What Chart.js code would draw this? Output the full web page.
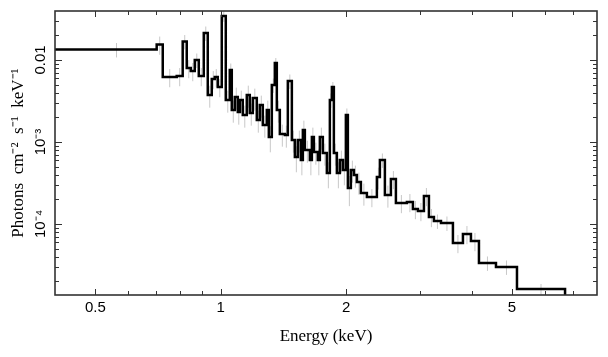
<!DOCTYPE html>
<html><head><meta charset="utf-8">
<script src="https://cdn.jsdelivr.net/npm/chart.js@4.4.1/dist/chart.umd.min.js"></script>
<style>html,body{margin:0;padding:0;background:#fff}#wrap{width:608px;height:357px}</style>
</head><body><div id="wrap"><canvas id="c" width="608" height="357"></canvas></div>
<script>
// Energy bin edges (keV)
const binEdges = [0.45, 0.7017, 0.7256, 0.7838, 0.8102, 0.8285, 0.8471, 0.8661, 0.8855, 0.9103,
  0.9306, 0.9514, 0.9674, 0.9835, 1.0055, 1.0280, 1.0510, 1.0627, 1.0805, 1.0986,
  1.1108, 1.1293, 1.1546, 1.1739, 1.1936, 1.2203, 1.2407, 1.2615, 1.2897, 1.3041,
  1.3259, 1.3481, 1.3631, 1.3860, 1.4248, 1.4486, 1.4812, 1.5060, 1.5311, 1.5568,
  1.5741, 1.5916, 1.6363, 1.6545, 1.6729, 1.7100, 1.7290, 1.7580, 1.7973, 1.8274,
  1.8478, 1.8683, 1.8996, 1.9314, 1.9637, 1.9965, 2.0187, 2.0525, 2.0868, 2.1217,
  2.1692, 2.2424, 2.3698, 2.4095, 2.4770, 2.5607, 2.6325, 2.7975, 2.8918, 2.9730,
  3.0734, 3.1596, 3.2481, 3.3774, 3.6078, 3.8131, 3.9856, 4.1660, 4.5770, 5.1405, 6.7050];
// Flux per bin (photons cm^-2 s^-1 keV^-1)
const flux = [0.01343, 0.01545, 0.006204, 0.006381, 0.01681, 0.007990, 0.007341, 0.01000, 0.006381, 0.02135,
  0.003743, 0.005866, 0.006204, 0.004685, 0.03440, 0.003253, 0.007551, 0.002456, 0.003538, 0.002322,
  0.003253, 0.002135, 0.003743, 0.002258, 0.003440, 0.001855, 0.002826, 0.001612, 0.002456, 0.001151,
  0.004955, 0.009192, 0.002456, 0.001252, 0.001218, 0.005546, 0.001058, 0.0006567, 0.001058, 0.0006034,
  0.001401, 0.0007986, 0.0006034, 0.001151, 0.0007551, 0.0006034, 0.001151, 0.0007341, 0.0004188, 0.003253,
  0.004685, 0.0007341, 0.0004188, 0.0006034, 0.0004555, 0.002135, 0.0002748, 0.0004555, 0.0003960, 0.0003253,
  0.0002388, 0.0002135, 0.0003743, 0.0006034, 0.0002258, 0.0003538, 0.0001804, 0.0001855, 0.0001524, 0.0001441,
  0.0002196, 0.0001218, 0.0001088, 0.0001028, 0.00005866, 0.00007551, 0.00006204, 0.00003344, 0.00002989, 0.00001612];
// Relative 1-sigma error per bin
const relErr = [0.2, 0.25, 0.25, 0.25, 0.2, 0.25, 0.25, 0.2, 0.25, 0.2,
  0.3, 0.25, 0.25, 0.25, 0.15, 0.3, 0.2, 0.3, 0.3, 0.3,
  0.3, 0.3, 0.3, 0.3, 0.3, 0.3, 0.3, 0.3, 0.3, 0.35,
  0.2, 0.15, 0.3, 0.3, 0.3, 0.2, 0.3, 0.35, 0.3, 0.35,
  0.3, 0.3, 0.35, 0.3, 0.3, 0.35, 0.3, 0.3, 0.35, 0.2,
  0.15, 0.3, 0.35, 0.3, 0.35, 0.2, 0.4, 0.3, 0.3, 0.3,
  0.3, 0.25, 0.3, 0.2, 0.3, 0.25, 0.25, 0.25, 0.25, 0.25,
  0.25, 0.25, 0.2, 0.2, 0.25, 0.25, 0.25, 0.2, 0.2, 0.15];

const xTickValues = [0.5, 0.6, 0.7, 0.8, 0.9, 1, 2, 3, 4, 5, 6, 7];
const xTickLabels = ['0.5', '', '', '', '', '1', '2', '', '', '5', '', ''];
const yTickValues = [2e-5, 3e-5, 4e-5, 5e-5, 6e-5, 7e-5, 8e-5, 9e-5,
  1e-4, 2e-4, 3e-4, 4e-4, 5e-4, 6e-4, 7e-4, 8e-4, 9e-4,
  1e-3, 2e-3, 3e-3, 4e-3, 5e-3, 6e-3, 7e-3, 8e-3, 9e-3,
  1e-2, 2e-2, 3e-2];
const yTickLabels = ['', '', '', '', '', '', '', '',
  '10\u207B\u2074', '', '', '', '', '', '', '', '',
  '10\u207B\u00B3', '', '', '', '', '', '', '', '',
  '0.01', '', ''];

const X_MIN = 0.4, X_MAX = 8, Y_MIN = 1.36e-5, Y_MAX = 0.0396;

// step line points
const stepPts = [{x: X_MIN * 0.9, y: flux[0]}];
for (let i = 1; i < flux.length; i++) stepPts.push({x: binEdges[i], y: flux[i]});
stepPts.push({x: binEdges[binEdges.length - 1], y: flux[flux.length - 1]});
stepPts.push({x: binEdges[binEdges.length - 1], y: Y_MIN * 0.5});

// error bar segments at bin centres
const errPts = [];
for (let i = 0; i < flux.length; i++) {
  const c = Math.sqrt(binEdges[i] * binEdges[i + 1]);
  errPts.push({x: c, y: flux[i] * (1 - relErr[i])});
  errPts.push({x: c, y: flux[i] * (1 + relErr[i])});
  errPts.push({x: c, y: null});
}

const frameTicks = {
  id: 'frameTicks',
  afterDraw(chart) {
    const {ctx, chartArea: a, scales: {x, y}} = chart;
    ctx.save();
    ctx.strokeStyle = '#333';
    ctx.lineWidth = 1;
    ctx.beginPath();
    x.ticks.forEach((t, i) => {
      const px = Math.round(x.getPixelForValue(t.value)) + 0.5;
      const len = xTickLabels[i] ? 6 : 4;
      ctx.moveTo(px, a.bottom); ctx.lineTo(px, a.bottom - len);
      ctx.moveTo(px, a.top); ctx.lineTo(px, a.top + len);
    });
    y.ticks.forEach((t, i) => {
      const py = Math.round(y.getPixelForValue(t.value)) + 0.5;
      const len = yTickLabels[i] ? 7 : 4;
      ctx.moveTo(a.left, py); ctx.lineTo(a.left + len, py);
      ctx.moveTo(a.right, py); ctx.lineTo(a.right - len, py);
    });
    ctx.stroke();
    ctx.lineWidth = 1.6;
    ctx.strokeRect(a.left, a.top, a.right - a.left, a.bottom - a.top);
    ctx.restore();
  }
};

new Chart(document.getElementById('c'), {
  type: 'line',
  data: {
    datasets: [
      {data: stepPts, stepped: true, borderColor: '#000', borderWidth: 2.5, pointRadius: 0, fill: false, order: 0},
      {data: errPts, borderColor: '#c8c8c8', borderWidth: 1, pointRadius: 0, fill: false, spanGaps: false, order: 1}
    ]
  },
  options: {
    responsive: false,
    animation: false,
    devicePixelRatio: 1,
    layout: {padding: {top: 11, right: 11, left: 0, bottom: 0}},
    plugins: {legend: {display: false}, tooltip: {enabled: false}},
    scales: {
      x: {
        type: 'logarithmic', min: X_MIN, max: X_MAX, position: 'bottom',
        grid: {display: false, drawTicks: false}, border: {display: false},
        afterBuildTicks: s => { s.ticks = xTickValues.map(v => ({value: v})); },
        afterFit: s => { s.height = 62; },
        ticks: {autoSkip: false, minRotation: 0, maxRotation: 0, padding: 4, color: '#000',
          font: {family: 'Liberation Sans', size: 15},
          callback: (v, i) => xTickLabels[i]},
        title: {display: true, text: 'Energy (keV)', color: '#000',
          font: {family: 'Liberation Serif', size: 17}, padding: {top: 0, bottom: 10}}
      },
      y: {
        type: 'logarithmic', min: Y_MIN, max: Y_MAX, position: 'left',
        grid: {display: false, drawTicks: false}, border: {display: false},
        afterBuildTicks: s => { s.ticks = yTickValues.map(v => ({value: v})); },
        afterFit: s => { s.width = 55; },
        ticks: {autoSkip: false, minRotation: 90, maxRotation: 90, crossAlign: 'center', padding: 0, color: '#000',
          font: {family: 'Liberation Sans', size: 15},
          callback: (v, i) => yTickLabels[i]},
        title: {display: true, text: 'Photons\u2002cm\u207B\u00B2\u2002s\u207B\u00B9\u2002keV\u207B\u00B9', color: '#000',
          font: {family: 'Liberation Serif', size: 17}, padding: {top: 8, bottom: 0}}
      }
    }
  },
  plugins: [frameTicks]
});
</script></body></html>
